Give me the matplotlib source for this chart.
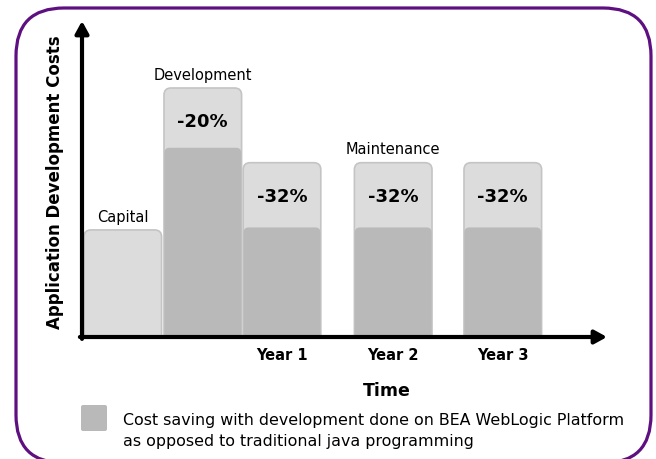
import matplotlib
matplotlib.use("Agg")
import matplotlib.pyplot as plt
from matplotlib.patches import FancyBboxPatch

# data (development traditional cost = 100)
stages = ["Capital", "Development", "Year 1", "Year 2", "Year 3"]
traditional_cost = [43, 100, 70, 70, 70]
weblogic_cost = [None, 76, 44, 44, 44]
savings = [None, "-20%", "-32%", "-32%", "-32%"]
tick_labels = ["", "", "Year 1", "Year 2", "Year 3"]
phase_labels = [("Capital", 0), ("Development", 1), ("Maintenance", 3)]
legend_lines = ["Cost saving with development done on BEA WebLogic Platform",
                "as opposed to traditional java programming"]

# layout
bar_pos = [0.51, 1.51, 2.5, 3.89, 5.26]
bar_w = 0.97
light, dark, edge = "#dcdcdc", "#b9b9b9", "#c4c4c4"
purple = "#5e0f80"

W, H = 656, 460
fig = plt.figure(figsize=(W / 100, H / 100), dpi=100)

# background layer in pixel coordinates: rounded frame + legend swatch
bg = fig.add_axes([0, 0, 1, 1])
bg.set_xlim(0, W)
bg.set_ylim(H, 0)
bg.axis("off")
bg.add_patch(FancyBboxPatch((16, 9), 635, 455, boxstyle="round,pad=0,rounding_size=48",
                            fc="white", ec=purple, lw=2.3))
bg.add_patch(FancyBboxPatch((81, 406), 26, 26, boxstyle="round,pad=0,rounding_size=2",
                            fc=dark, ec="none"))

# main chart area
x0, x1, y0, y1 = 82, 607, 338, 22
ax = fig.add_axes([x0 / W, 1 - y0 / H, (x1 - x0) / W, (y0 - y1) / H])
ax.patch.set_alpha(0)
xu = 1 / 80          # x units per pixel
yu = 100 / 249       # y units per pixel
ax.set_xlim(0, (x1 - x0) * xu)
ax.set_ylim(0, (y0 - y1) * yu)
aspect = yu / xu
for s in ax.spines.values():
    s.set_visible(False)

for pos, full, low, pct in zip(bar_pos, traditional_cost, weblogic_cost, savings):
    left = pos - bar_w / 2
    ax.add_patch(FancyBboxPatch((left, -10), bar_w, full + 10,
                                boxstyle=f"round,pad=0,rounding_size={7 * xu}",
                                mutation_aspect=aspect, fc=light, ec=edge, lw=1.2))
    if low is not None:
        ax.add_patch(FancyBboxPatch((left + 0.005, -10), bar_w - 0.01, low + 10,
                                    boxstyle=f"round,pad=0,rounding_size={5 * xu}",
                                    mutation_aspect=aspect, fc=dark, ec="none"))
    if pct:
        ax.annotate(pct, (pos, full), xytext=(0, -24), textcoords="offset points",
                    ha="center", va="center", fontsize=13, fontweight="bold")

for name, i in phase_labels:
    ax.annotate(name, (bar_pos[i], traditional_cost[i]), xytext=(0, 10),
                textcoords="offset points", ha="center", va="center", fontsize=10.5)

ax.set_xticks(bar_pos, tick_labels, fontsize=10.5, fontweight="bold")
ax.tick_params(length=0, pad=7)
ax.set_yticks([])

arrow = dict(arrowstyle="-|>,head_length=0.4,head_width=0.22", lw=3, color="black",
             mutation_scale=18, shrinkA=0, shrinkB=0)
ax.annotate("", xy=(0, 1), xytext=(0, -0.006), xycoords="axes fraction", arrowprops=arrow,
            annotation_clip=False)
ax.annotate("", xy=(1, 0), xytext=(-0.004, 0), xycoords="axes fraction", arrowprops=arrow,
            annotation_clip=False)

fig.text(55 / W, 1 - 182 / H, "Application Development Costs", rotation=90,
         ha="center", va="center", fontsize=12, fontweight="bold")
fig.text(387 / W, 1 - 391 / H, "Time", ha="center", va="center", fontsize=12.5,
         fontweight="bold")
fig.text(123 / W, 1 - 421 / H, legend_lines[0], ha="left", va="center", fontsize=11.4)
fig.text(123 / W, 1 - 442 / H, legend_lines[1], ha="left", va="center", fontsize=11.4)

fig.savefig("out.png", dpi=100)
